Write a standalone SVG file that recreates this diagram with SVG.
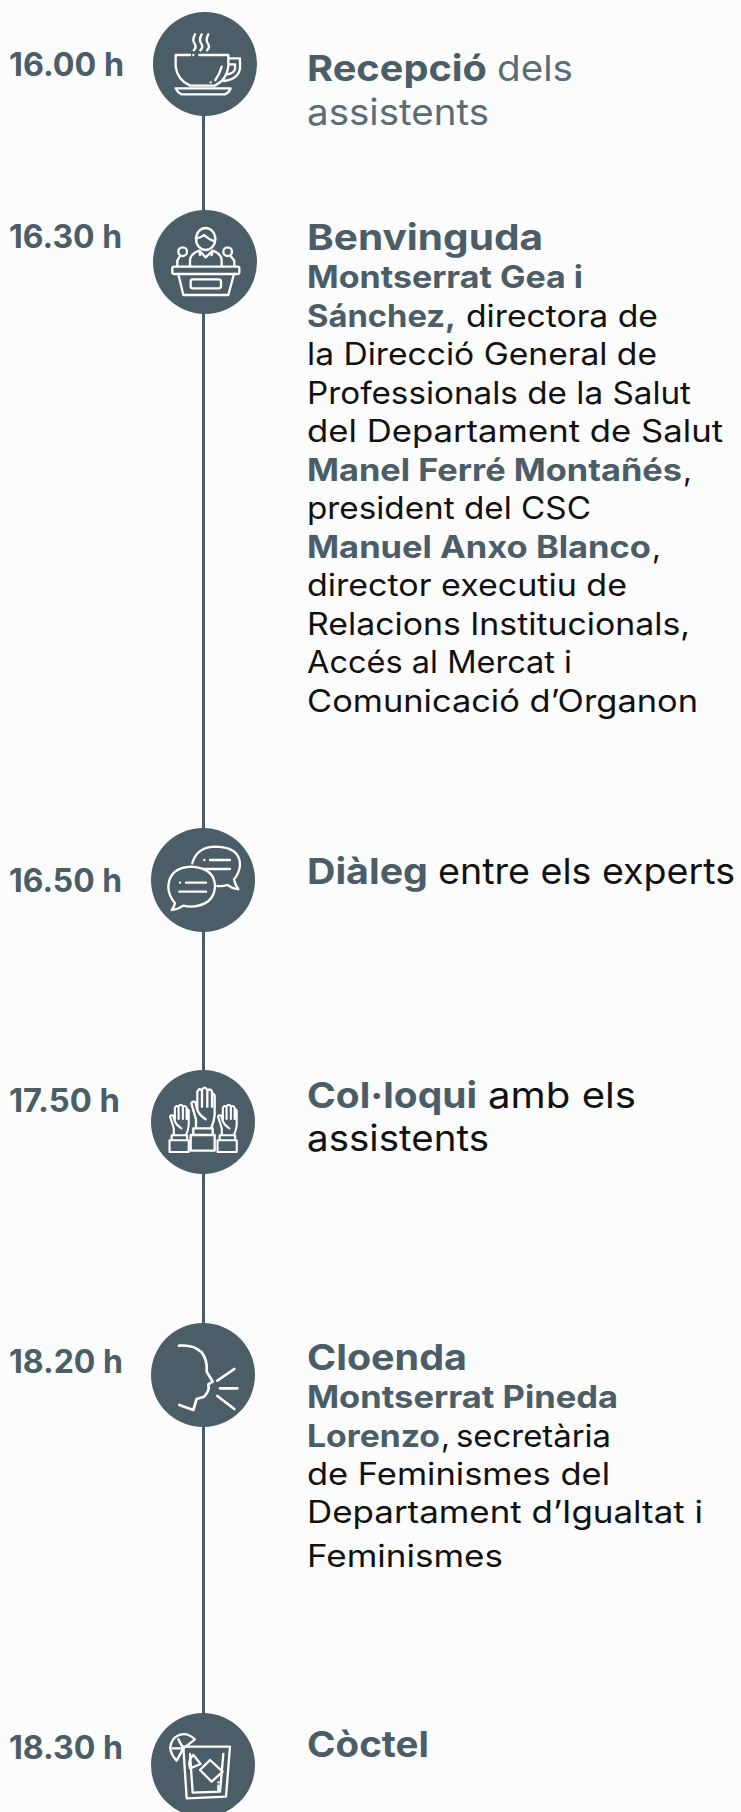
<svg xmlns="http://www.w3.org/2000/svg" width="741" height="1812" viewBox="0 0 741 1812">
<style>
text{font-family:"Inter","Open Sans","Liberation Sans",sans-serif}
.t{font-size:32px;font-weight:700;fill:#4b5d67}
.h{font-size:36px;font-weight:700;fill:#4b5d67}
.hl{font-size:36px;font-weight:400;fill:#5b6c76}
.hk{font-size:36px;font-weight:400;fill:#111}
.b{font-size:31px;font-weight:700;fill:#4b5d67}
.r{font-size:31px;font-weight:400;fill:#111}
.c{fill:#4b5d67}
.i{fill:none;stroke:#fff;stroke-width:7;stroke-linecap:round;stroke-linejoin:round}
.ln{stroke:#4b5d67;stroke-width:3;fill:none}
</style>
<defs>
<g id="hand">
<path d="M168,203V178L154,130Q158,122 166,127L172,150V95Q178,82 186,92V140M186,90Q194,76 202,90V140M202,92Q210,84 216,94V140M216,104Q222,98 224,108V165Q222,185 214,203M172,150Q178,165 197,178"/>
<path d="M160,205H218V225H160ZM152,225H224V272H152Z"/>
</g>
</defs>
<rect width="741" height="1812" fill="#fcfcfc"/>
<g id="connectors"><path class="ln" d="M203.5,110V1720"/></g>

<g id="node-1600">
<circle class="c" cx="205" cy="64" r="52"/>
<g class="i" transform="translate(140,5) scale(.3333)">
<path d="M165,88Q155,105 165,118Q170,128 161,136M185,88Q175,105 185,118Q190,128 181,136M205,88Q195,105 205,118Q210,128 201,136"/>
<path d="M150,150H107V185Q112,225 150,242H225Q260,225 265,185V150H178M265,160H300V190Q295,222 252,228M268,178H285V192Q282,205 262,208"/>
<path d="M107,250H272Q268,262 255,268H124Q112,262 107,250Z"/>
<path d="M245,185Q240,205 226,225M212,232h.1M160,150h.1"/>
</g>
<text class="t" x="9" y="76" textLength="115" lengthAdjust="spacingAndGlyphs">16.00 h</text>
<text class="h" x="307" y="81" textLength="180" lengthAdjust="spacingAndGlyphs">Recepció</text>
<text class="hl" x="497" y="81" textLength="76" lengthAdjust="spacingAndGlyphs">dels</text>
<text class="hl" x="307" y="125" textLength="182" lengthAdjust="spacingAndGlyphs">assistents</text>
</g>

<g id="node-1630">
<circle class="c" cx="205" cy="262" r="52"/>
<g class="i" transform="translate(140,200) scale(.3333)">
<ellipse cx="197" cy="117" rx="29" ry="33"/>
<path d="M170,115Q185,112 192,105Q205,118 224,124M150,198V180Q152,160 178,152L197,172L218,152Q243,160 245,180V198M178,152L180,165M218,152L215,165"/>
<circle cx="128" cy="155" r="13"/><circle cx="263" cy="155" r="13"/>
<path d="M120,168L112,182V198M272,168L283,182V198"/>
<rect x="97" y="200" width="201" height="22" rx="5"/>
<path d="M115,222L130,285H265L282,222"/>
<rect x="152" y="238" width="91" height="27" rx="6"/>
</g>
<text class="t" x="9" y="248" textLength="113" lengthAdjust="spacingAndGlyphs">16.30 h</text>
<text class="h" x="307" y="250" textLength="236" lengthAdjust="spacingAndGlyphs">Benvinguda</text>
<text class="b" x="307" y="288" textLength="276" lengthAdjust="spacingAndGlyphs">Montserrat Gea i</text>
<text class="b" x="307" y="326.500" textLength="149" lengthAdjust="spacingAndGlyphs">Sánchez,</text>
<text class="r" x="466" y="326.500" textLength="192" lengthAdjust="spacingAndGlyphs">directora de</text>
<text class="r" x="307" y="365" textLength="350" lengthAdjust="spacingAndGlyphs">la Direcció General de</text>
<text class="r" x="307" y="403.500" textLength="384" lengthAdjust="spacingAndGlyphs">Professionals de la Salut</text>
<text class="r" x="307" y="442" textLength="416" lengthAdjust="spacingAndGlyphs">del Departament de Salut</text>
<text class="b" x="307" y="480.500" textLength="375" lengthAdjust="spacingAndGlyphs">Manel Ferré Montañés</text>
<text class="r" x="683" y="480.500">,</text>
<text class="r" x="307" y="519" textLength="284" lengthAdjust="spacingAndGlyphs">president del CSC</text>
<text class="b" x="307" y="557.500" textLength="344" lengthAdjust="spacingAndGlyphs">Manuel Anxo Blanco</text>
<text class="r" x="652" y="557.500">,</text>
<text class="r" x="307" y="596" textLength="320" lengthAdjust="spacingAndGlyphs">director executiu de</text>
<text class="r" x="307" y="634.500" textLength="383" lengthAdjust="spacingAndGlyphs">Relacions Institucionals,</text>
<text class="r" x="307" y="673" textLength="265" lengthAdjust="spacingAndGlyphs">Accés al Mercat i</text>
<text class="r" x="307" y="711.500" textLength="391" lengthAdjust="spacingAndGlyphs">Comunicació d’Organon</text>
</g>

<g id="node-1650">
<circle class="c" cx="203" cy="880" r="52"/>
<g class="i" transform="translate(140,820) scale(.3333)">
<path d="M157,130Q170,80 228,80Q300,82 300,135Q298,160 282,178Q285,195 295,208Q275,205 262,195Q248,200 232,198"/>
<path d="M105,250Q85,225 85,200Q88,142 155,140Q225,145 225,200Q222,255 155,260Q140,260 130,257Q115,268 95,270Q103,260 105,250Z"/>
<path d="M193,120h.1M210,120H270M190,147H270M120,188h.1M138,188H198M118,215H198"/>
</g>
<text class="t" x="9" y="892" textLength="113" lengthAdjust="spacingAndGlyphs">16.50 h</text>
<text class="h" x="307" y="884" textLength="121" lengthAdjust="spacingAndGlyphs">Diàleg</text>
<text class="hk" x="438" y="884" textLength="297" lengthAdjust="spacingAndGlyphs">entre els experts</text>
</g>

<g id="node-1750">
<circle class="c" cx="203" cy="1122" r="52"/>
<g class="i" transform="translate(140,1060) scale(.3333)">
<use href="#hand"/>
<use href="#hand" transform="translate(-33,72) scale(.8,.75)" stroke-width="8"/>
<use href="#hand" transform="translate(111,72) scale(.8,.75)" stroke-width="8"/>
</g>
<text class="t" x="9" y="1112" textLength="111" lengthAdjust="spacingAndGlyphs">17.50 h</text>
<text class="h" x="307" y="1108" textLength="170" lengthAdjust="spacingAndGlyphs">Col·loqui</text>
<text class="hk" x="488" y="1108" textLength="148" lengthAdjust="spacingAndGlyphs">amb els</text>
<text class="hk" x="307" y="1151" textLength="182" lengthAdjust="spacingAndGlyphs">assistents</text>
</g>

<g id="node-1820">
<circle class="c" cx="203" cy="1375" r="52"/>
<g class="i" transform="translate(140,1315) scale(.3333)" stroke-width="8" style="stroke-width:8">
<path d="M117,92Q160,88 185,112Q203,135 200,170L218,200L205,208Q210,228 192,245L170,252L160,285L118,270"/>
<path d="M232,197L283,162M240,220H292M232,243L283,282"/>
</g>
<text class="t" x="9" y="1373" textLength="114" lengthAdjust="spacingAndGlyphs">18.20 h</text>
<text class="h" x="307" y="1370" textLength="160" lengthAdjust="spacingAndGlyphs">Cloenda</text>
<text class="b" x="307" y="1408" textLength="311" lengthAdjust="spacingAndGlyphs">Montserrat Pineda</text>
<text class="b" x="307" y="1447" textLength="133" lengthAdjust="spacingAndGlyphs">Lorenzo</text>
<text class="r" x="441" y="1447">,</text>
<text class="r" x="456" y="1447" textLength="155" lengthAdjust="spacingAndGlyphs">secretària</text>
<text class="r" x="307" y="1485" textLength="303" lengthAdjust="spacingAndGlyphs">de Feminismes del</text>
<text class="r" x="307" y="1523" textLength="396" lengthAdjust="spacingAndGlyphs">Departament d’Igualtat i</text>
<text class="r" x="307" y="1567" textLength="196" lengthAdjust="spacingAndGlyphs">Feminismes</text>
</g>

<g id="node-1830">
<circle class="c" cx="203" cy="1765" r="52"/>
<g class="i" transform="translate(140,1700) scale(.3333)">
<path d="M130,140H270L258,290L140,295Z"/>
<path d="M150,162L158,278L240,275L250,162"/>
<path d="M165,118Q135,90 105,112Q75,145 110,182L130,145Z"/>
<path d="M130,145L115,118M130,145L98,145"/>
<path d="M150,205Q142,180 160,165L182,192Z"/>
<path d="M210,180L248,215L215,245L180,210Z"/>
<path d="M235,247h.1M235,257V272"/>
</g>
<text class="t" x="9" y="1759" textLength="114" lengthAdjust="spacingAndGlyphs">18.30 h</text>
<text class="h" x="307" y="1757" textLength="122" lengthAdjust="spacingAndGlyphs">Còctel</text>
</g>
</svg>
